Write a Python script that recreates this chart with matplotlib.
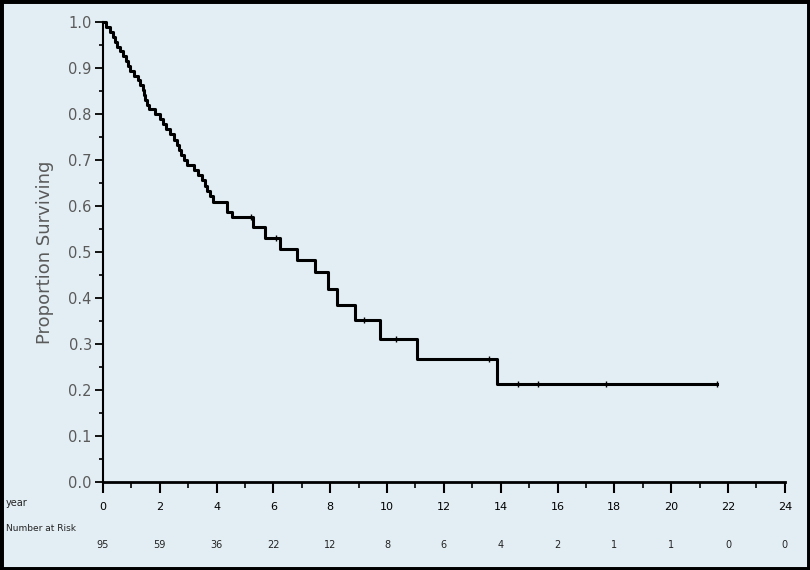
import numpy as np
import matplotlib.pyplot as plt
from matplotlib.patches import Rectangle

# Kaplan-Meier step levels (years, proportion surviving)
step_times = [0.12, 0.25, 0.35, 0.42, 0.50, 0.62, 0.72, 0.80, 0.90, 0.97,
              1.10, 1.25, 1.32, 1.40, 1.45, 1.50, 1.55, 1.62, 1.85, 2.00,
              2.10, 2.22, 2.35, 2.50, 2.60, 2.68, 2.75, 2.85, 2.95, 3.20,
              3.35, 3.48, 3.58, 3.68, 3.78, 3.87, 4.38, 4.55, 5.28, 5.70,
              6.25, 6.82, 7.46, 7.92, 8.24, 8.87, 9.75, 11.06, 13.87]
step_surv = [0.989, 0.979, 0.968, 0.958, 0.947, 0.937, 0.926, 0.916, 0.905, 0.895,
             0.884, 0.874, 0.863, 0.853, 0.842, 0.832, 0.821, 0.811, 0.800, 0.789,
             0.778, 0.767, 0.756, 0.745, 0.734, 0.723, 0.712, 0.701, 0.690, 0.679,
             0.668, 0.656, 0.645, 0.633, 0.622, 0.610, 0.588, 0.576, 0.554, 0.532,
             0.508, 0.483, 0.457, 0.420, 0.386, 0.353, 0.312, 0.268, 0.214]
last_time = 21.62
censor_times = [5.2, 6.1, 9.2, 10.3, 13.6, 14.6, 15.3, 17.7, 21.62]

risk_years = [0, 2, 4, 6, 8, 10, 12, 14, 16, 18, 20, 22, 24]
at_risk = [95, 59, 36, 22, 12, 8, 6, 4, 2, 1, 1, 0, 0]

bg = '#e3eef4'
grey = '#5a5a5a'

x = np.concatenate([[0.0], step_times, [last_time]])
y = np.concatenate([[1.0], step_surv, [step_surv[-1]]])

fig = plt.figure(figsize=(8.1, 5.7), dpi=100, facecolor=bg)
ax = fig.add_axes([0.127, 0.154, 0.842, 0.807])
ax.set_facecolor(bg)

ax.step(x, y, where='post', color='black', lw=2.2, clip_on=False, zorder=3)

# censor marks sit on the curve
cy = [y[np.searchsorted(x, t, side='right') - 1] for t in censor_times]
ax.plot(censor_times, cy, ls='none', marker='|', ms=5, mew=1, color='black',
        clip_on=False, zorder=4)

ax.set_xlim(0, 24)
ax.set_ylim(0, 1.0)
ax.spines['top'].set_visible(False)
ax.spines['right'].set_visible(False)
ax.spines['left'].set_linewidth(1.5)
ax.spines['bottom'].set_linewidth(2)

ax.set_xticks(range(0, 25, 2))
ax.set_xticks(range(0, 25), minor=True)
ax.set_yticks(np.arange(0, 1.01, 0.1))
ax.set_yticks(np.arange(0, 1.01, 0.05), minor=True)
ax.set_yticklabels(['%.1f' % v for v in np.arange(0, 1.01, 0.1)])
ax.tick_params(axis='x', which='major', length=8, width=1.5, labelsize=8,
               colors='black', pad=6)
ax.tick_params(axis='x', which='minor', length=4, width=1.2)
ax.tick_params(axis='y', which='major', length=6, width=1.3, labelsize=10.5,
               labelcolor=grey, pad=2)
ax.tick_params(axis='y', which='minor', length=3, width=1.2)

ax.set_ylabel('Proportion Surviving', fontsize=13, color=grey, labelpad=10)

# number at risk table
fig.text(0.007, 0.117, 'year', fontsize=7, color='#222222', va='center')
fig.text(0.007, 0.072, 'Number at Risk', fontsize=6.5, color='#222222', va='center')
for yr, n in zip(risk_years, at_risk):
    ax.text(yr, -0.137, str(n), transform=ax.get_xaxis_transform(),
            ha='center', va='center', fontsize=7, color='#222222')

# outer black frame
fig.patches.append(Rectangle((0, 0), 1, 1, transform=fig.transFigure,
                             fill=False, ec='black', lw=5, zorder=10))

fig.savefig('out.png', dpi=100, facecolor=bg)
